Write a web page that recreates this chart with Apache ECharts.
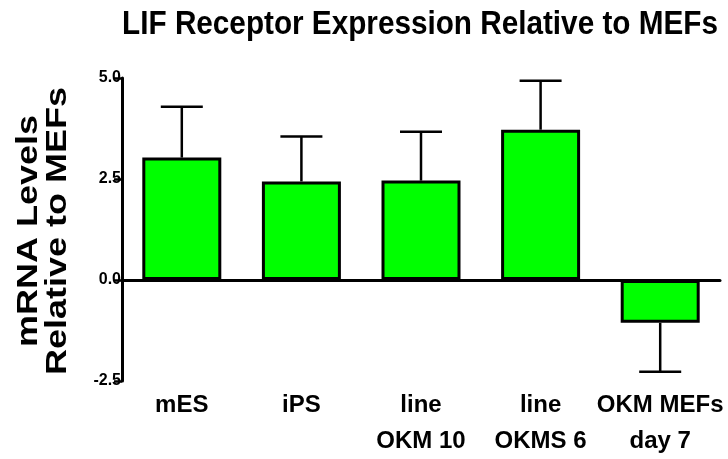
<!DOCTYPE html>
<html>
<head>
<meta charset="utf-8">
<script src="https://cdn.jsdelivr.net/npm/echarts@6/dist/echarts.min.js"></script>
<style>
  html, body { margin: 0; padding: 0; background: #fff; }
  #chart { width: 728px; height: 459px; }
</style>
</head>
<body>
<div id="chart"></div>
<script>
// values
const categories = ['mES', 'iPS', 'line\nOKM 10', 'line\nOKMS 6', 'OKM MEFs\nday 7'];
const means = [3.03, 2.44, 2.46, 3.72, -1.06];
const errorEnds = [4.29, 3.55, 3.67, 4.93, -2.27];
const yMin = -2.5;
const yMax = 5;
const yStep = 2.5;
const titleText = 'LIF Receptor Expression Relative to MEFs';
const yNameLines = ['mRNA Levels', 'Relative to MEFs'];

const arial = "'Liberation Sans', Arial, sans-serif";

const chart = echarts.init(document.getElementById('chart'));

// error bar: stem from the bar end to the error end plus a cap
const renderError = (params, api) => {
  const i = api.value(0);
  const start = api.coord([i, api.value(1)]);
  const end = api.coord([i, api.value(2)]);
  const half = 21;
  const style = { stroke: '#000', lineWidth: 2.5 };
  return {
    type: 'group',
    children: [
      { type: 'line', shape: { x1: start[0], y1: start[1], x2: end[0], y2: end[1] }, style },
      { type: 'line', shape: { x1: end[0] - half, y1: end[1], x2: end[0] + half, y2: end[1] }, style }
    ]
  };
};

// the original lettering is condensed in one direction, so scale the text
const yNameText = (text, x) => ({
  type: 'text',
  x: x,
  y: 231,
  rotation: Math.PI / 2,
  scaleX: 1.2,
  style: {
    text: text,
    fontFamily: arial,
    fontWeight: 'bold',
    fontSize: 30,
    fill: '#000',
    align: 'center',
    verticalAlign: 'middle'
  }
});

chart.setOption({
  animation: false,
  graphic: [
    {
      type: 'text',
      x: 420,
      y: 25,
      scaleX: 0.9,
      style: {
        text: titleText,
        fontFamily: arial,
        fontWeight: 'bold',
        fontSize: 33,
        fill: '#000',
        align: 'center',
        verticalAlign: 'middle'
      }
    },
    yNameText(yNameLines[0], 29),
    yNameText(yNameLines[1], 58)
  ],
  grid: { left: 122, right: 8, top: 78, bottom: 76 },
  xAxis: [
    {
      type: 'category',
      data: categories,
      position: 'bottom',
      axisLine: { show: false, onZero: false },
      axisTick: { show: false },
      axisLabel: {
        margin: 6,
        interval: 0,
        color: '#000',
        fontFamily: arial,
        fontWeight: 'bold',
        fontSize: 24,
        lineHeight: 36
      }
    },
    {
      type: 'category',
      data: categories,
      position: 'bottom',
      z: 5,
      axisLine: { onZero: true, lineStyle: { color: '#000', width: 3 } },
      axisTick: { alignWithLabel: true, length: 8, lineStyle: { color: '#000', width: 2.5 } },
      axisLabel: { show: false }
    }
  ],
  yAxis: {
    type: 'value',
    min: yMin,
    max: yMax,
    interval: yStep,
    axisLine: { show: true, lineStyle: { color: '#000', width: 3 } },
    axisTick: { show: true, length: 8, lineStyle: { color: '#000', width: 2.5 } },
    axisLabel: {
      margin: 1,
      color: '#000',
      fontFamily: arial,
      fontWeight: 'bold',
      fontSize: 16,
      formatter: (v) => v.toFixed(1)
    },
    splitLine: { show: false }
  },
  series: [
    {
      type: 'bar',
      data: means,
      barWidth: 79,
      itemStyle: { color: '#00ff00', borderColor: '#000', borderWidth: 3 }
    },
    {
      type: 'custom',
      renderItem: renderError,
      data: means.map((m, i) => [i, m, errorEnds[i]]),
      z: 3
    }
  ]
});
</script>
</body>
</html>
